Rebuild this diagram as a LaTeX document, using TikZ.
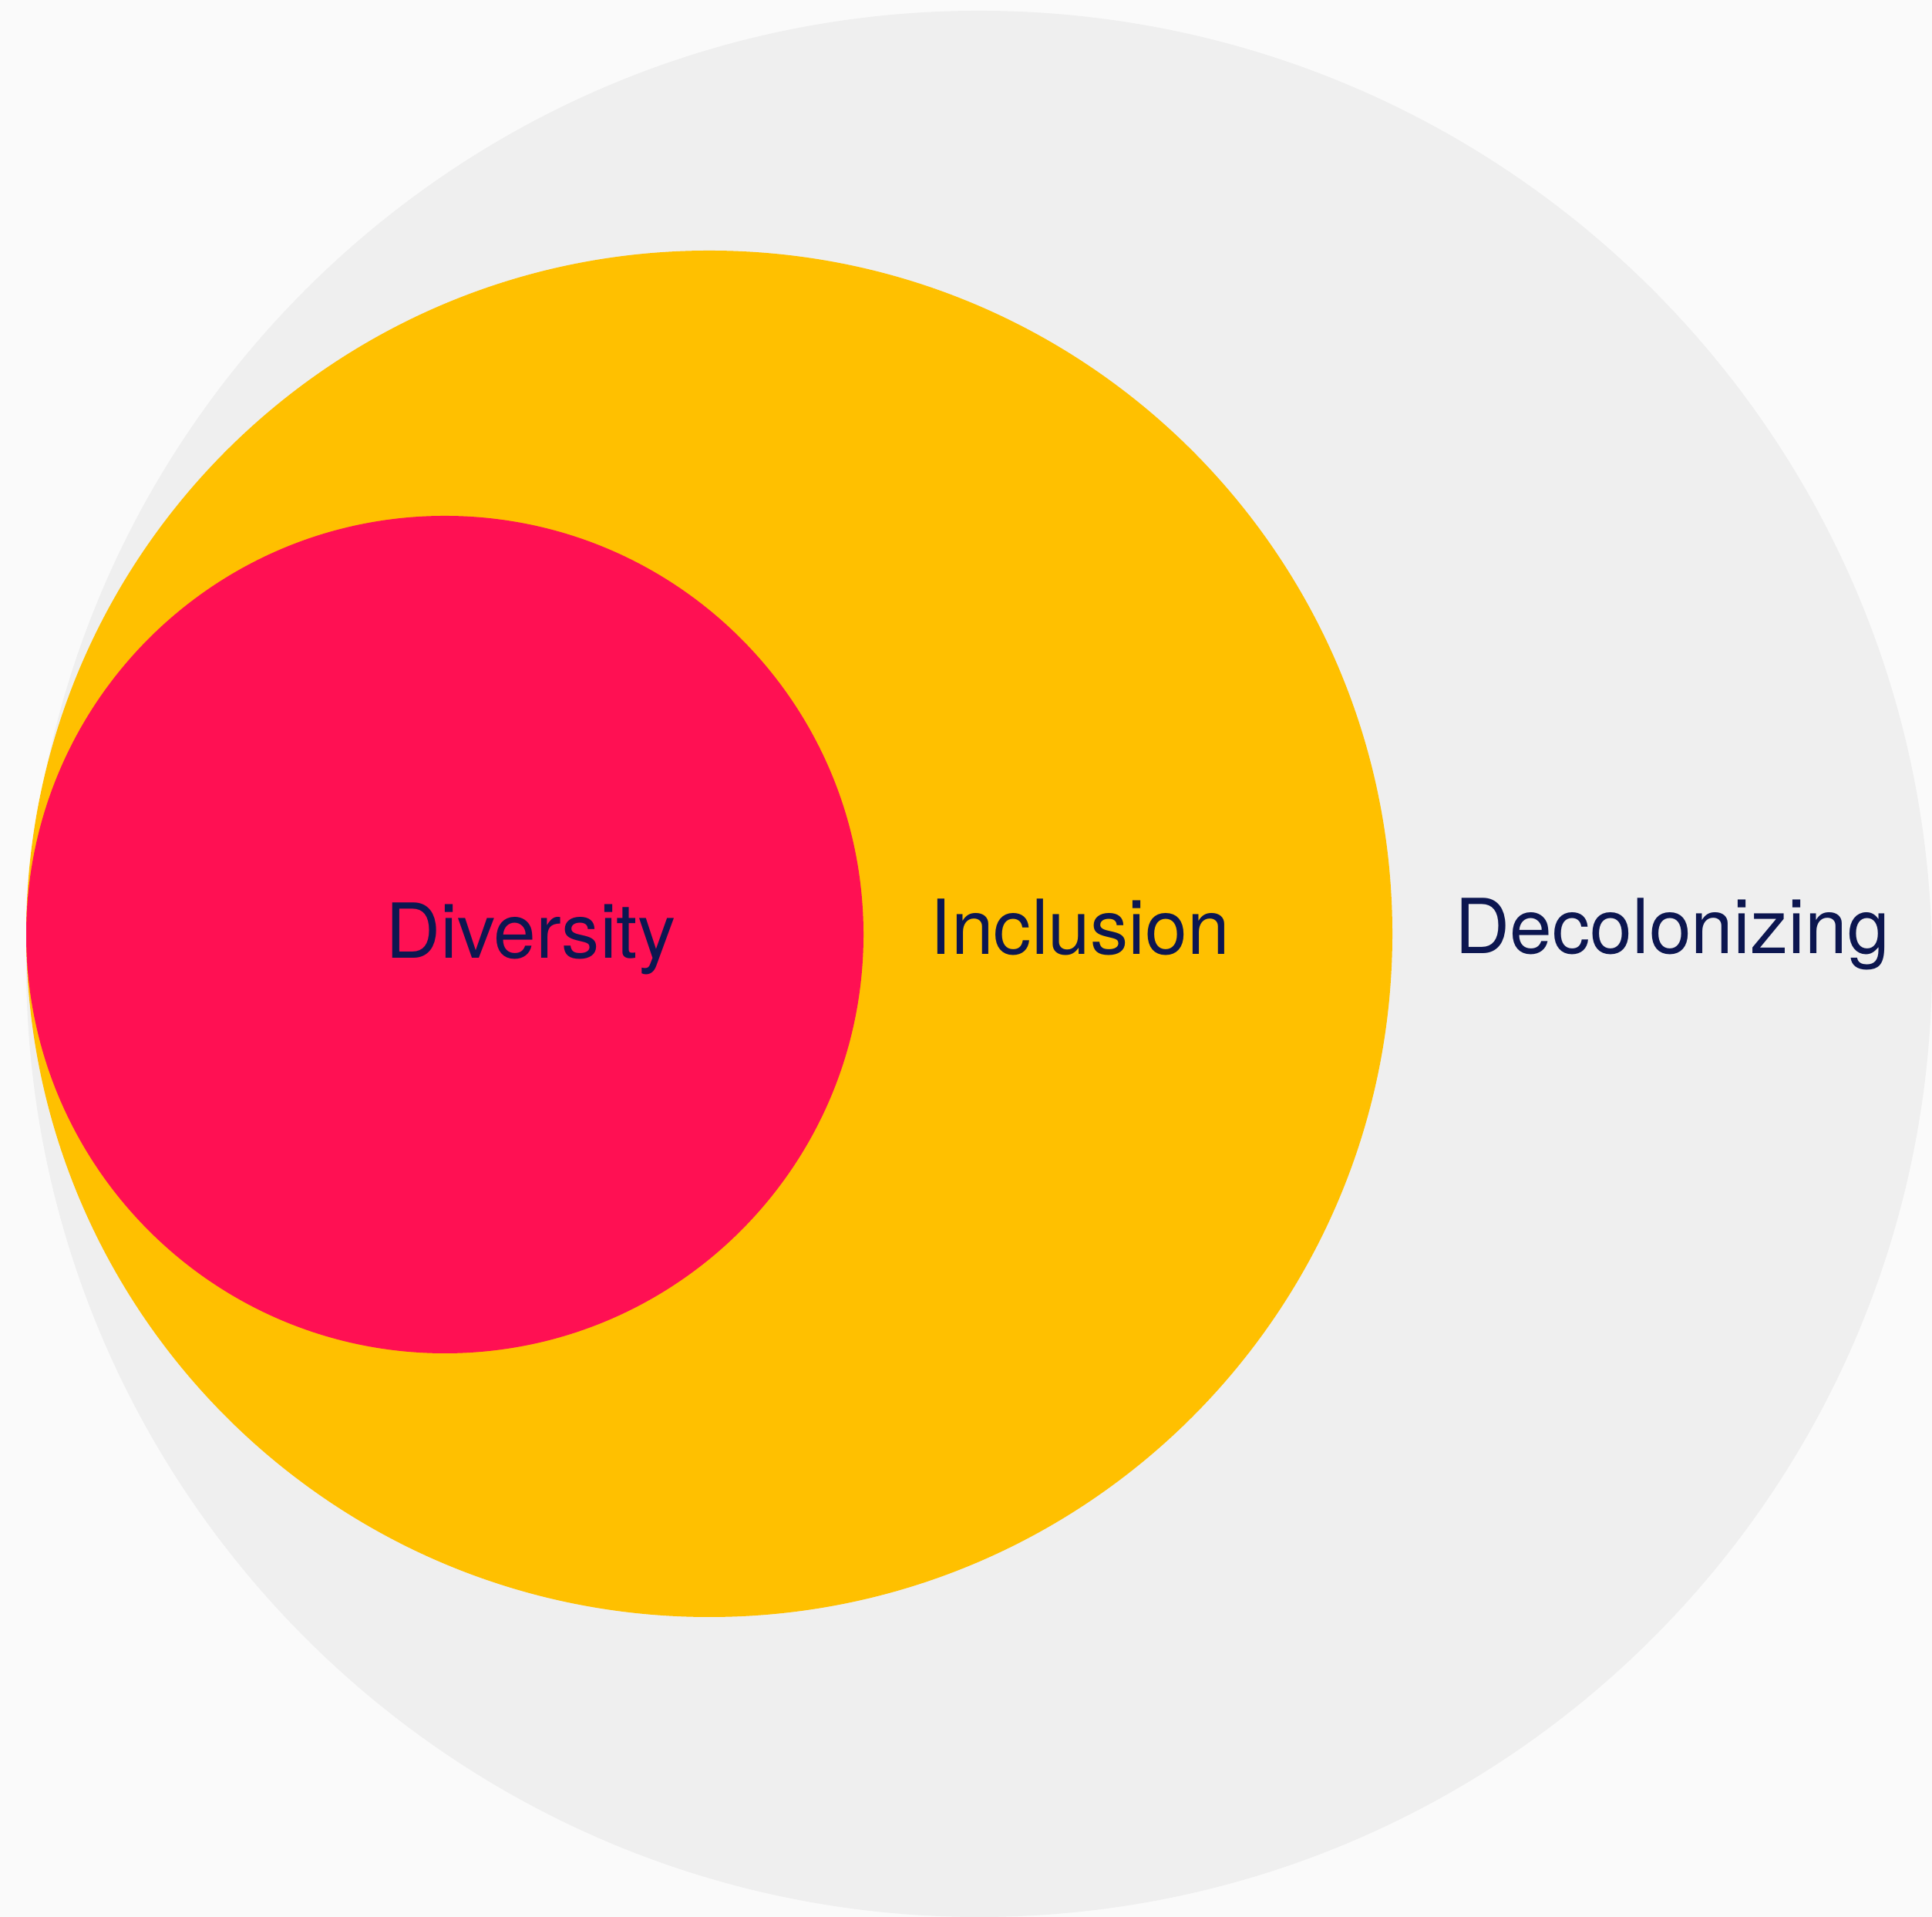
\documentclass[tikz,border=0pt]{standalone}
\usepackage{fontspec}
\setmainfont{TeX Gyre Heros}
\definecolor{bgc}{HTML}{FAFAFA}
\definecolor{grayc}{HTML}{EFEFEF}
\definecolor{yelc}{HTML}{FFC000}
\definecolor{redc}{HTML}{FF1053}
\definecolor{txtc}{HTML}{0C1650}
\tikzset{
  lbl/.style={anchor=base west, inner sep=0pt, text=txtc, font=\fontsize{28pt}{32pt}\selectfont}
}
\begin{document}
\begin{tikzpicture}
\useasboundingbox (0,0) rectangle (25.06,24.86);
\clip (0,0) rectangle (25.06,24.86);
\fill[bgc] (0,0) rectangle (25.06,24.86);
\fill[grayc] (12.70,12.36) circle (12.36);
\fill[yelc] (9.20,12.75) circle (8.86);
\fill[redc] (5.77,12.74) circle (5.43);
\node[lbl] (div) at (5.00,12.43) {Diversity};
\node[lbl] (inc) at (12.06,12.48) {Inclusion};
\node[lbl] (dec) at (18.87,12.49) {Decolonizing};
\end{tikzpicture}
\end{document}
